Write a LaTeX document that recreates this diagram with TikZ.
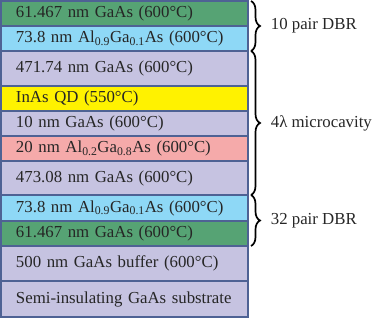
\documentclass[tikz,border=0pt]{standalone}
\usepackage{fontspec}
\setmainfont{Liberation Serif}
\usetikzlibrary{positioning,decorations.pathreplacing}
\definecolor{dbrgreen}{RGB}{86,163,116}
\definecolor{dbrblue}{RGB}{142,216,246}
\definecolor{gaaslav}{RGB}{198,195,225}
\definecolor{qdyellow}{RGB}{255,242,0}
\definecolor{algapink}{RGB}{245,170,170}
\definecolor{edge}{RGB}{78,98,148}

\begin{document}
\begin{tikzpicture}[
  x=1pt, y=1pt,
  every node/.style={font=\fontsize{16.8}{20}\selectfont, text=black!85},
  layer/.style={draw=edge, line width=2pt, outer sep=0pt, inner xsep=15pt,
    inner ysep=0pt, text width=217pt, align=left},
  cbrace/.style={decorate, decoration={brace, amplitude=9pt}, line width=1.7pt},
  blab/.style={right=19pt, inner sep=0pt}
]
  \useasboundingbox (0,0) rectangle (374,-318);
  % strati
  \node[layer, fill=dbrgreen, minimum height=25pt, anchor=north west] (l1) at (1,-1) {61.467 nm GaAs (600°C)};
  \node[layer, fill=dbrblue, minimum height=25pt, below=0pt of l1] (l2) {73.8 nm Al\textsubscript{0.9}Ga\textsubscript{0.1}As (600°C)};
  \node[layer, fill=gaaslav, minimum height=35pt, below=0pt of l2] (l3) {471.74 nm GaAs (600°C)};
  \node[layer, fill=qdyellow, minimum height=25pt, below=0pt of l3] (l4) {InAs QD (550°C)};
  \node[layer, fill=gaaslav, minimum height=25pt, below=0pt of l4] (l5) {10 nm GaAs (600°C)};
  \node[layer, fill=algapink, minimum height=25pt, below=0pt of l5] (l6) {20 nm Al\textsubscript{0.2}Ga\textsubscript{0.8}As (600°C)};
  \node[layer, fill=gaaslav, minimum height=34pt, below=0pt of l6] (l7) {473.08 nm GaAs (600°C)};
  \node[layer, fill=dbrblue, minimum height=26pt, below=0pt of l7] (l8) {73.8 nm Al\textsubscript{0.9}Ga\textsubscript{0.1}As (600°C)};
  \node[layer, fill=dbrgreen, minimum height=25pt, below=0pt of l8] (l9) {61.467 nm GaAs (600°C)};
  \node[layer, fill=gaaslav, minimum height=35pt, below=0pt of l9] (l10) {500 nm GaAs buffer (600°C)};
  \node[layer, fill=gaaslav, minimum height=36pt, below=0pt of l10] (l11) {\mbox{Semi-insulating GaAs substrate}};

  % graffe
  \draw[cbrace] ([xshift=3pt]l1.north east) -- ([xshift=3pt]l2.south east)
    node[midway, blab] (dbrtop) {10 pair DBR};
  \draw[cbrace] ([xshift=3pt]l3.north east) -- ([xshift=3pt]l7.south east)
    node[midway, blab] (cavity) {4λ microcavity};
  \draw[cbrace] ([xshift=3pt]l8.north east) -- ([xshift=3pt]l9.south east)
    node[midway, blab] (dbrbot) {32 pair DBR};
\end{tikzpicture}
\end{document}
